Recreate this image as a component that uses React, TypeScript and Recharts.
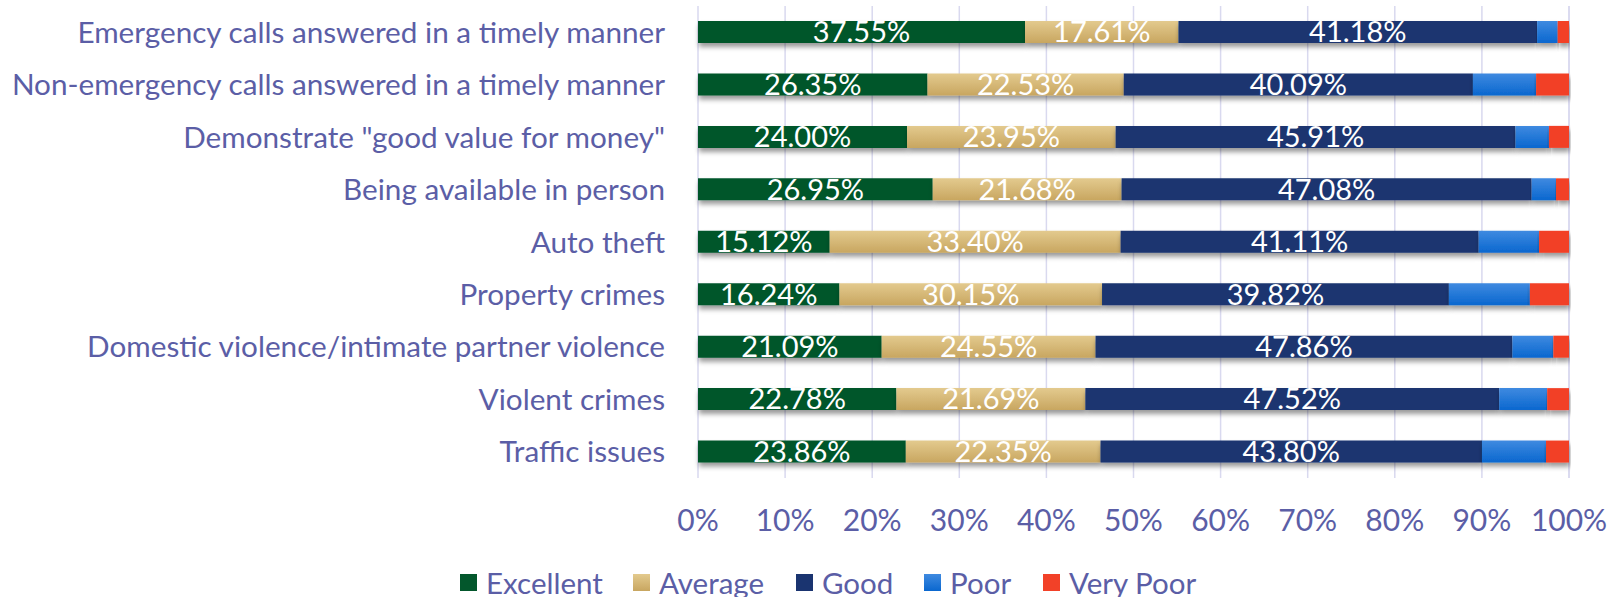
import { Bar, BarChart, CartesianGrid, LabelList, Legend, Rectangle, XAxis, YAxis } from 'recharts';

const CATEGORIES = [
  'Emergency calls answered in a timely manner',
  'Non-emergency calls answered in a timely manner',
  'Demonstrate "good value for money"',
  'Being available in person',
  'Auto theft',
  'Property crimes',
  'Domestic violence/intimate partner violence',
  'Violent crimes',
  'Traffic issues',
];

const EXCELLENT = [37.55, 26.35, 24.0, 26.95, 15.12, 16.24, 21.09, 22.78, 23.86];
const AVERAGE = [17.61, 22.53, 23.95, 21.68, 33.4, 30.15, 24.55, 21.69, 22.35];
const GOOD = [41.18, 40.09, 45.91, 47.08, 41.11, 39.82, 47.86, 47.52, 43.8];
const POOR = [2.36, 7.25, 3.84, 2.8, 6.93, 9.3, 4.7, 5.5, 7.35];
const VERY_POOR = [1.3, 3.78, 2.3, 1.49, 3.44, 4.49, 1.8, 2.51, 2.64];

const X_TICKS = [0, 10, 20, 30, 40, 50, 60, 70, 80, 90, 100];

const FONT = 'Lato, "Open Sans", sans-serif';
const TEXT = '#5b5ea6';

const SERIES = [
  { key: 'excellent', name: 'Excellent', fill: '#03572c', swatch: '#03572c', labels: true },
  { key: 'average', name: 'Average', fill: 'url(#gradAverage)', swatch: 'linear-gradient(#e3ca8e, #c8a660)', labels: true },
  { key: 'good', name: 'Good', fill: '#1a3470', swatch: '#1a3470', labels: true },
  { key: 'poor', name: 'Poor', fill: 'url(#gradPoor)', swatch: 'linear-gradient(#3f8ae0, #0a67cf)', labels: false },
  { key: 'veryPoor', name: 'Very Poor', fill: '#f24128', swatch: '#f24128', labels: false },
];

// legend slot widths, px
const LEGEND_SLOTS = [173, 163, 128, 119, 160];

const data = CATEGORIES.map((name, i) => ({
  name,
  excellent: EXCELLENT[i],
  average: AVERAGE[i],
  good: GOOD[i],
  poor: POOR[i],
  veryPoor: VERY_POOR[i],
}));

const ShadowBar = (props: any) => <Rectangle {...props} filter="url(#barShadow)" />;

const renderLegend = () => (
  <div
    style={{
      display: 'flex',
      alignItems: 'center',
      height: 30,
      paddingLeft: 460,
      fontFamily: FONT,
      fontSize: 29.5,
      color: TEXT,
    }}
  >
    {SERIES.map((s, i) => (
      <span key={s.key} style={{ display: 'flex', alignItems: 'center', width: LEGEND_SLOTS[i], whiteSpace: 'nowrap' }}>
        <span style={{ width: 17, height: 17, background: s.swatch, marginRight: 9, display: 'inline-block', flex: 'none' }} />
        {s.name}
      </span>
    ))}
  </div>
);

export default function App() {
  return (
    <div style={{ position: 'absolute', left: 0, top: 0, width: 1617, height: 597, background: '#fff' }}>
      <BarChart
        width={1617}
        height={597}
        data={data}
        layout="vertical"
        barSize={22}
        margin={{ top: 6, right: 48, bottom: 0, left: 0 }}
      >
        <defs>
          <linearGradient id="gradAverage" x1="0" y1="0" x2="0" y2="1">
            <stop offset="0%" stopColor="#e3ca8e" />
            <stop offset="100%" stopColor="#c8a660" />
          </linearGradient>
          <linearGradient id="gradPoor" x1="0" y1="0" x2="0" y2="1">
            <stop offset="0%" stopColor="#3f8ae0" />
            <stop offset="100%" stopColor="#0a67cf" />
          </linearGradient>
          <filter id="barShadow" x="-5%" y="-40%" width="110%" height="220%">
            <feDropShadow dx="1" dy="4" stdDeviation="2.5" floodColor="#000" floodOpacity="0.4" />
          </filter>
        </defs>
        <CartesianGrid horizontal={false} stroke="#d9d9ef" strokeWidth={1.5} />
        <XAxis
          type="number"
          domain={[0, 100]}
          ticks={X_TICKS}
          tickFormatter={(v) => `${v}%`}
          axisLine={false}
          tickLine={false}
          tickSize={0}
          tickMargin={32}
          height={89}
          interval={0}
          tick={{ fill: TEXT, fontSize: 30, fontFamily: FONT }}
        />
        <YAxis
          type="category"
          dataKey="name"
          width={698}
          axisLine={false}
          tickLine={false}
          tickSize={0}
          tickMargin={33}
          interval={0}
          tick={{ fill: TEXT, fontSize: 29.7, fontFamily: FONT }}
        />
        <Legend verticalAlign="bottom" content={renderLegend} />
        {SERIES.map((s) => (
          <Bar
            key={s.key}
            dataKey={s.key}
            name={s.name}
            stackId="a"
            fill={s.fill}
            shape={ShadowBar}
            isAnimationActive={false}
          >
            {s.labels && (
              <LabelList
                dataKey={s.key}
                position="center"
                formatter={(v: any) => `${Number(v).toFixed(2)}%`}
                fill="#ffffff"
                fontSize={29}
                fontFamily={FONT}
              />
            )}
          </Bar>
        ))}
      </BarChart>
    </div>
  );
}
